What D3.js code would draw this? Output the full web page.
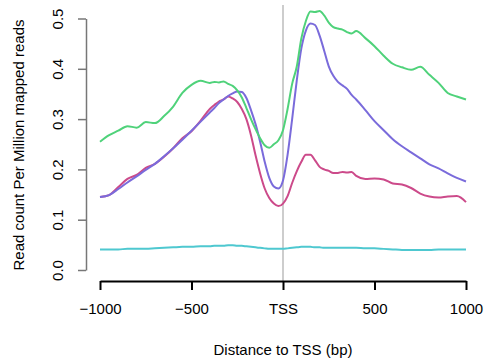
<!DOCTYPE html>
<html>
<head>
<meta charset="utf-8">
<script src="https://cdn.jsdelivr.net/npm/d3@7"></script>
<style>
  html, body { margin: 0; padding: 0; background: #fff; }
  svg { display: block; font-family: "Liberation Sans", Arial, Helvetica, sans-serif; }
</style>
</head>
<body>
<svg id="chart" width="485" height="358"></svg>
<script>
// ---- data ----
const positions = [
  -1000, -950, -900, -850, -800, -750, -700, -650, -600, -550, -500, -450, -400,
  -375, -350, -325, -300, -275, -250, -225, -200, -175, -150, -125, -100, -75, -50, -25,
  0, 25, 50, 75, 100, 125, 150, 175, 200, 225, 250, 275, 300, 325, 350, 375,
  400, 450, 500, 550, 600, 650, 700, 750, 800, 850, 900, 950, 1000
];
const greenValues = [
  0.255, 0.268, 0.277, 0.286, 0.283, 0.294, 0.292, 0.306, 0.325, 0.352, 0.368, 0.376, 0.372,
  0.374, 0.373, 0.375, 0.370, 0.366, 0.357, 0.343, 0.322, 0.300, 0.280, 0.262, 0.248, 0.243, 0.250, 0.258,
  0.278, 0.320, 0.370, 0.404, 0.460, 0.495, 0.514, 0.513, 0.515, 0.506, 0.492, 0.483, 0.480, 0.478, 0.473, 0.470,
  0.475, 0.461, 0.445, 0.426, 0.410, 0.403, 0.398, 0.404, 0.388, 0.372, 0.352, 0.345, 0.339
];
const purpleValues = [
  0.145, 0.149, 0.161, 0.174, 0.186, 0.199, 0.211, 0.226, 0.242, 0.259, 0.277, 0.295, 0.313,
  0.322, 0.332, 0.339, 0.346, 0.351, 0.355, 0.354, 0.342, 0.318, 0.290, 0.255, 0.215, 0.183, 0.166, 0.162,
  0.178, 0.229, 0.300, 0.376, 0.440, 0.476, 0.490, 0.487, 0.466, 0.436, 0.405, 0.386, 0.374, 0.367, 0.360, 0.348,
  0.339, 0.318, 0.296, 0.278, 0.260, 0.246, 0.234, 0.222, 0.210, 0.202, 0.192, 0.183, 0.176
];
const magentaValues = [
  0.145, 0.149, 0.165, 0.181, 0.189, 0.203, 0.211, 0.225, 0.242, 0.262, 0.276, 0.297, 0.320,
  0.328, 0.335, 0.339, 0.345, 0.341, 0.334, 0.320, 0.300, 0.268, 0.228, 0.192, 0.162, 0.143, 0.132, 0.127,
  0.132, 0.147, 0.173, 0.196, 0.215, 0.229, 0.229, 0.218, 0.205, 0.200, 0.197, 0.193, 0.193, 0.195, 0.194, 0.195,
  0.187, 0.181, 0.182, 0.180, 0.172, 0.170, 0.163, 0.152, 0.146, 0.144, 0.146, 0.147, 0.135
];
const cyanValues = [
  0.041, 0.041, 0.041, 0.042, 0.042, 0.042, 0.043, 0.044, 0.045, 0.046, 0.046, 0.047, 0.047,
  0.048, 0.048, 0.048, 0.049, 0.049, 0.048, 0.048, 0.047, 0.046, 0.045, 0.044, 0.043, 0.042, 0.042, 0.042,
  0.042, 0.043, 0.044, 0.045, 0.046, 0.046, 0.046, 0.045, 0.045, 0.044, 0.044, 0.044, 0.044, 0.044, 0.044, 0.044,
  0.044, 0.043, 0.043, 0.042, 0.041, 0.040, 0.040, 0.040, 0.040, 0.041, 0.041, 0.041, 0.041
];
const seriesNames = ["cyan", "magenta", "purple", "green"];
const seriesColors = ["#4ec8d0", "#cc4a8a", "#7a6bdb", "#4fd27a"];
const xTickValues = [-1000, -500, 0, 500, 1000];
const xTickLabels = ["\u22121000", "\u2212500", "TSS", "500", "1000"];
const yTickValues = [0, 0.1, 0.2, 0.3, 0.4, 0.5];
const yTickLabels = ["0.0", "0.1", "0.2", "0.3", "0.4", "0.5"];
const xTitle = "Distance to TSS (bp)";
const yTitle = "Read count Per Million mapped reads";

// ---- chart ----
const svg = d3.select("#chart");
const x = d3.scaleLinear().domain([-1000, 1000]).range([100, 466]);
const y = d3.scaleLinear().domain([0, 0.5]).range([270, 18.5]);
const fontSize = 15;

// TSS line
svg.append("line")
  .attr("x1", x(0)).attr("x2", x(0))
  .attr("y1", 5).attr("y2", 281)
  .attr("stroke", "#bdbdbd").attr("stroke-width", 1.5);

// series
const allValues = [cyanValues, magentaValues, purpleValues, greenValues];
const line = d3.line()
  .x((d, i) => x(positions[i]))
  .y(d => y(d))
  .curve(d3.curveMonotoneX);
allValues.forEach((vals, k) => {
  svg.append("path")
    .datum(vals)
    .attr("class", "series " + seriesNames[k])
    .attr("fill", "none")
    .attr("stroke", seriesColors[k])
    .attr("stroke-width", 2)
    .attr("stroke-linejoin", "round")
    .attr("d", line);
});

// x axis
const xAxis = d3.axisBottom(x)
  .tickValues(xTickValues)
  .tickFormat((d, i) => xTickLabels[i])
  .tickSize(9)
  .tickSizeOuter(0)
  .tickPadding(13);
const gx = svg.append("g").attr("transform", "translate(0,281)").call(xAxis);
gx.select(".domain").attr("stroke", "#000").attr("stroke-width", 2);
gx.selectAll(".tick line").attr("stroke", "#000").attr("stroke-width", 2);
gx.selectAll(".tick text").attr("font-size", fontSize).attr("fill", "#000")
  .attr("font-family", "Liberation Sans, Arial, sans-serif");

// y axis
const yAxis = d3.axisLeft(y)
  .tickValues(yTickValues)
  .tickFormat((d, i) => yTickLabels[i])
  .tickSize(8)
  .tickSizeOuter(0)
  .tickPadding(0);
const gy = svg.append("g").attr("transform", "translate(86,0)").call(yAxis);
gy.select(".domain").attr("stroke", "#777").attr("stroke-width", 1.5);
gy.selectAll(".tick line").attr("stroke", "#777").attr("stroke-width", 1.5);
gy.selectAll(".tick text")
  .attr("font-size", fontSize).attr("fill", "#000")
  .attr("font-family", "Liberation Sans, Arial, sans-serif")
  .attr("text-anchor", "middle")
  .attr("dy", null)
  .attr("x", 0)
  .attr("transform", "translate(-29,0) rotate(-90)")
  .attr("dominant-baseline", "central");

// titles
svg.append("text")
  .attr("x", x(0)).attr("y", 349)
  .attr("text-anchor", "middle")
  .attr("dominant-baseline", "central")
  .attr("font-size", fontSize)
  .text(xTitle);
svg.append("text")
  .attr("transform", "translate(18,145) rotate(-90)")
  .attr("text-anchor", "middle")
  .attr("dominant-baseline", "central")
  .attr("font-size", fontSize)
  .text(yTitle);
</script>
</body>
</html>
